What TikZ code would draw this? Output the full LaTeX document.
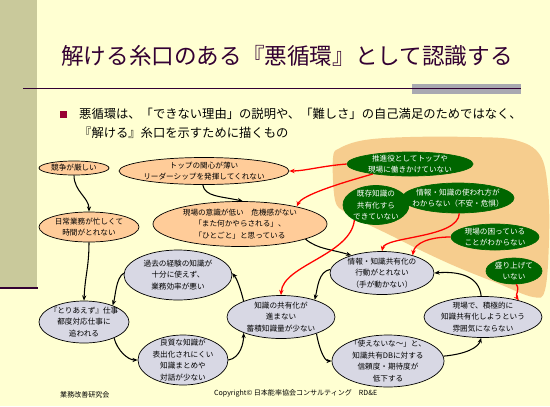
\documentclass[tikz,border=0pt]{standalone}
\usepackage{fontspec}
\setmainfont{Noto Sans CJK JP}
\usepackage{xcolor}
\usepackage{tikz}
\usetikzlibrary{arrows.meta,shapes.geometric}
\definecolor{bgyellow}{HTML}{FFFFD2}
\definecolor{stripolive}{HTML}{C9C99B}
\definecolor{titlepurple}{HTML}{330033}
\definecolor{bulletred}{HTML}{990033}
\definecolor{rulegrey}{HTML}{A9A9B1}
\definecolor{peach}{HTML}{FFCC99}
\definecolor{lavgrey}{HTML}{D8D8E4}
\definecolor{deepgreen}{HTML}{006600}
\definecolor{bloborange}{HTML}{F6CD8E}

\begin{document}
\begin{tikzpicture}[x=0.03cm,y=-0.03cm,font=\fontsize{6.5}{9.8}\selectfont,
 ov/.style={ellipse,draw=black,line width=.6pt,inner sep=0pt},
 warm/.style={ov,fill=peach},cool/.style={ov,fill=lavgrey},leaf/.style={ov,draw=deepgreen,fill=deepgreen},
 t/.style={align=center,inner sep=0pt},tw/.style={t,text=white},
 arr/.style={line width=.9pt,black,-{Stealth[length=4.5pt,width=3.6pt]}},
 rarr/.style={line width=1.1pt,red,-{Stealth[length=4.5pt,width=3.8pt]}}]
\useasboundingbox (0,0) rectangle (550,406);
\fill[bgyellow] (0,0) rectangle (550,406);
\fill[stripolive] (0,0) rectangle (37,288);
\draw[titlepurple,line width=1.5pt] (0,288)--(38,288);
\fill[rulegrey] (412,84) rectangle (521,94);
\draw[titlepurple,line width=.7pt] (23,88)--(521,88);
\node[anchor=base west,inner sep=0pt,font=\fontsize{19.3}{23}\selectfont,text=titlepurple] (title) at (61,64.6) {解ける糸口のある『悪循環』として認識する};
\fill[bulletred] (59.5,110.5) rectangle (66.5,117.5);
\node[anchor=base west,align=left,inner sep=0pt,font=\fontsize{10.5}{16.2}\selectfont] (lead) at (79,137.7) {悪循環は、「できない理由」の説明や、「難しさ」の自己満足のためではなく、\\『解ける』糸口を示すために描くもの};
% area behind the green causes
\fill[bloborange] plot[smooth cycle,tension=.6] coordinates {(333,158) (335,200) (345,212) (363,222) (390,235) (420,250) (457,267) (497,283) (533,297) (545,290) (549,240) (548,190) (540,155) (515,140) (470,137) (410,137) (365,140) (340,148)};
% loop
\node[warm,minimum width=2.1cm,minimum height=.42cm,label={[t]center:競争が厳しい}] (kyoso) at (74,168) {};
\node[warm,minimum width=3.0cm,minimum height=.9cm,label={[t]center:日常業務が忙しくて\\時間がとれない}] (nichijo) at (89,227) {};
\node[warm,minimum width=5.1cm,minimum height=.81cm,label={[t]center:トップの関心が薄い\\リーダーシップを発揮してくれない}] (top) at (204,171) {};
\node[warm,minimum width=5.22cm,minimum height=1.35cm,label={[t]center:現場の意識が低い　危機感がない\\「また何かやらされる」、\\「ひとごと」と思っている}] (ishiki) at (240,224) {};
\node[cool,minimum width=3.24cm,minimum height=1.5cm,label={[t]center:過去の経験の知識が\\十分に使えず、\\業務効率が悪い}] (kako) at (178,275) {};
\node[cool,minimum width=2.7cm,minimum height=1.26cm,label={[t]center:『とりあえず』仕事\\都度対応仕事に\\追われる}] (toriaezu) at (84,322) {};
\node[cool,minimum width=2.7cm,minimum height=1.5cm,label={[t]center:良質な知識が\\表出化されにくい\\知識まとめや\\対話が少ない}] (ryoshitsu) at (183,360) {};
\node[cool,minimum width=3.24cm,minimum height=1.29cm,label={[t]center:知識の共有化が\\進まない\\蓄積知識量が少ない}] (kyoyu) at (281,317) {};
\node[cool,minimum width=3.12cm,minimum height=1.29cm,label={[t]center:情報・知識共有化の\\行動がとれない\\（手が動かない）}] (kodo) at (382,273) {};
\node[cool,minimum width=3.54cm,minimum height=1.23cm,label={[t]center:現場で、積極的に\\知識共有化しようという\\雰囲気にならない}] (funiki) at (483,317) {};
\node[cool,minimum width=3.36cm,minimum height=1.56cm,label={[t]center:「使えないな～」と、\\知識共有DBに対する\\信頼度・期待度が\\低下する}] (shinrai) at (388,361) {};
% green causes
\node[leaf,minimum width=3.78cm,minimum height=.72cm,label={[tw]center:推進役としてトップや\\現場に働きかけていない}] (suishin) at (410,164) {};
\node[leaf,minimum width=1.98cm,minimum height=1.17cm,label={[tw]center:既存知識の\\共有化すら\\できていない}] (kison) at (376,205) {};
\node[leaf,minimum width=3.36cm,minimum height=.9cm,label={[tw]center:情報・知識の使われ方が\\わからない（不安・危惧）}] (tsukaware) at (458,198) {};
\node[leaf,minimum width=2.64cm,minimum height=.78cm,label={[tw]center:現場の困っている\\ことがわからない}] (komatte) at (495,237) {};
\node[leaf,minimum width=1.68cm,minimum height=.78cm,label={[tw]center:盛り上げて\\いない}] (moriage) at (514,271) {};
% black arrows
\draw[arr] (kyoso.south) .. controls +(0,16) and +(0,-14) .. (nichijo.north);
\draw[arr] (nichijo.south) .. controls +(0,25) and +(1,-25) .. (toriaezu.north);
\draw[arr] (top.-95) .. controls +(2,12) and +(-22,-5) .. (ishiki.83);
\draw[arr] (ishiki.-13) .. controls +(12,10) and +(-20,-6) .. (kodo.150);
\draw[arr] (kodo.176) .. controls +(-12,2) and +(3,-12) .. (kyoyu.27);
\draw[arr] (kyoyu.157) .. controls +(-3,-12) and +(5,6) .. (kako.2);
\draw[arr] (kako.178) .. controls +(-8,5) and +(3,-10) .. (toriaezu.30);
\draw[arr] (toriaezu.-28) .. controls +(3,12) and +(-10,0) .. (ryoshitsu.180);
\draw[arr] (ryoshitsu.0) .. controls +(12,-2) and +(0,10) .. (kyoyu.203);
\draw[arr] (kyoyu.-25) .. controls +(2,12) and +(-8,0) .. (shinrai.180);
\draw[arr] (shinrai.5) .. controls +(22,-2) and +(-3,10) .. (funiki.-95);
\draw[arr] (funiki.95) .. controls +(-2,-20) and +(25,-2) .. (kodo.0);
% red arrows
\draw[rarr] (suishin.180) .. controls +(-25,2) and +(15,0) .. (top.0);
\draw[rarr] (suishin.195) .. controls +(-28,8) and +(5,-12) .. (ishiki.17);
\draw[rarr] (kison.215) .. controls +(-4,35) and +(2,-30) .. (kyoyu.90);
\draw[rarr] (tsukaware.-85) .. controls +(-1,25) and +(3,-15) .. (kodo.90);
\draw[rarr] (komatte.180) .. controls +(-22,0) and +(2,-12) .. (kodo.30);
\draw[rarr] (moriage.-80) .. controls +(4,6) and +(-4,-6) .. (funiki.25);
\node[anchor=base west,inner sep=0pt,font=\fontsize{6}{7}\selectfont] (dept) at (60,397.7) {業務改善研究会};
\node[anchor=base west,inner sep=0pt,font=\fontsize{6}{7}\selectfont] (copy) at (214,395.7) {Copyright© 日本能率協会コンサルティング　RD\&E};
\end{tikzpicture}
\end{document}
